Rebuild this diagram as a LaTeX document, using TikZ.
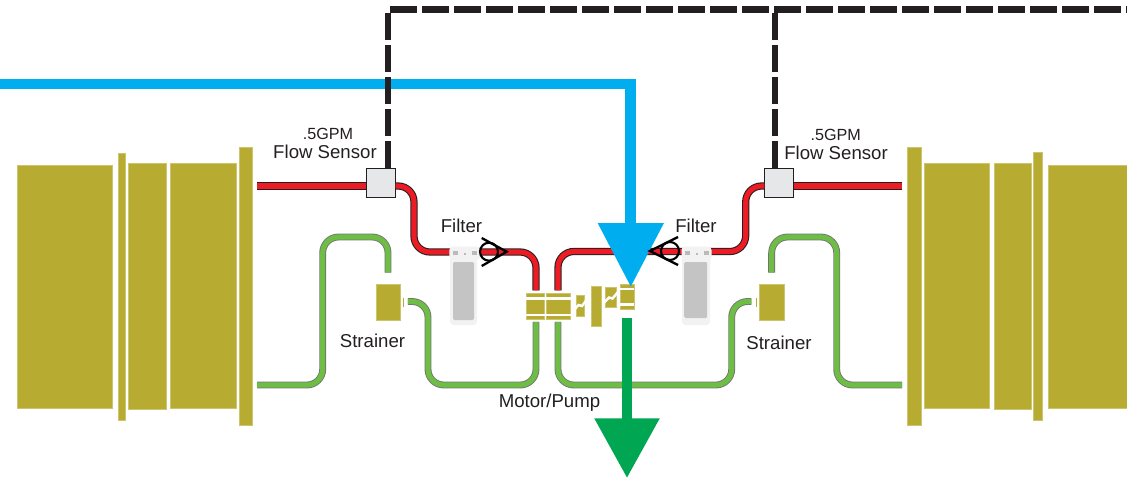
\documentclass[tikz,border=0pt]{standalone}
\usepackage{fontspec}
\setmainfont{Liberation Sans}
\usepackage{xcolor}
\usetikzlibrary{arrows.meta, positioning}

\definecolor{tankgold}{HTML}{B8AB32}
\definecolor{pipered}{HTML}{ED1C24}
\definecolor{pipegreen}{HTML}{6EBE46}
\definecolor{feedblue}{HTML}{00AEEF}
\definecolor{draingreen}{HTML}{00A651}
\definecolor{inkblack}{HTML}{231F20}
\definecolor{sensorgrey}{HTML}{E6E7E8}

\begin{document}
\begin{tikzpicture}[
        x=0.02cm,
        y=-0.02cm,
        font=\fontsize{10.6}{12}\selectfont,
        text=inkblack,
        line width=0.8pt,
        sized/.style 2 args={
            inner sep=0pt,
            outer sep=0pt,
            minimum width=#1*0.02cm,
            minimum height=#2*0.02cm
        },
        goldblock/.style={
            fill=tankgold,
            draw=tankgold!70!white,
            line width=0.3pt
        },
        gapline/.style={
            draw=white,
            line width=1.4pt
        },
        sensorbox/.style={
            fill=sensorgrey,
            draw=inkblack,
            line width=0.45pt
        },
        redpipe/.style={
            draw=inkblack,
            double=pipered,
            double distance=2.9pt,
            line width=0.6pt,
            rounded corners=9pt
        },
        greenpipe/.style={
            draw=black!55,
            double=pipegreen,
            double distance=2.9pt,
            line width=0.5pt,
            rounded corners=9pt
        },
        signalline/.style={
            draw=inkblack,
            line width=3.7pt,
            dash pattern=on 15.37pt off 2.85pt
        },
        feedline/.style={
            draw=feedblue,
            line width=6.1pt,
            -{Triangle[width=36pt, length=36.4pt, fill=feedblue]}
        },
        drainline/.style={
            draw=draingreen,
            line width=6.1pt,
            -{Triangle[width=35.6pt, length=34pt, fill=draingreen]}
        },
        filterbody/.style={
            fill=black!5,
            rounded corners=2pt
        },
        filterbowl/.style={
            fill=black!23,
            rounded corners=0.8pt
        },
        filtermark/.style={
            fill=black!27
        },
        valvering/.style={
            circle,
            draw=black,
            line width=1.2pt,
            inner sep=0pt,
            minimum size=0.36cm
        },
        valvearm/.style={
            draw=black,
            line width=1.3pt
        }
    ]

        \useasboundingbox (0, 0) rectangle (1127, 478);

        \node[goldblock, sized={95}{243}] (tankL1) at (64.5, 286.5) {};
        \node[goldblock, sized={7.5}{267}] (ringL) at (121.7, 286.3) {};
        \node[goldblock, sized={37.5}{246.5}] (tankL2) at (147.2, 286.2) {};
        \node[goldblock, sized={66}{245.5}] (tankL3) at (203, 285.7) {};
        \node[goldblock, sized={13.5}{278}] (flangeL) at (245.7, 286) {};

        \node[goldblock, sized={13.5}{278}] (flangeR) at (914.2, 286) {};
        \node[goldblock, sized={65}{245.5}] (tankR3) at (956.5, 285.7) {};
        \node[goldblock, sized={37}{246.5}] (tankR2) at (1012.5, 286.2) {};
        \node[goldblock, sized={8.5}{267.5}] (ringR) at (1037.7, 286.2) {};
        \node[goldblock, sized={79}{243}] (tankR1) at (1087.5, 286.5) {};

        \node[goldblock, sized={24}{36.7}] (strainerL) at (388, 302.3) {};
        \node[goldblock, sized={24.7}{36.7}] (strainerR) at (771.6, 302.3) {};
        \draw[tankgold, line width=0.5pt] (403.3, 298) -- (403.3, 306.7);
        \draw[tankgold, line width=0.5pt] (756.3, 298) -- (756.3, 306.7);

        \node[sensorbox, sized={29.7}{29}] (sensorL) at (380.8, 182.5) {};
        \node[sensorbox, sized={29.4}{29}] (sensorR) at (779, 182.5) {};

        \node[goldblock, sized={18.3}{26}] (motorA) at (535.2, 306.3) {};
        \node[goldblock, sized={24.7}{26}] (motorB) at (558.3, 306.3) {};
        \draw[gapline] (motorA.west |- 0, 298.5) -- (motorB.east |- 0, 298.5);
        \draw[gapline] (motorA.west |- 0, 315) -- (motorB.east |- 0, 315);

        \node[goldblock, sized={8.5}{21}] (shaftA) at (580.2, 305.3) {};
        \draw[gapline] (574, 310) -- (578.5, 305) -- (582, 306) -- (586.5, 300);
        \node[goldblock, sized={10}{40}] (plate) at (596, 306.5) {};
        \node[goldblock, sized={11.7}{20.4}] (shaftB) at (610.8, 297.5) {};
        \draw[gapline] (603.5, 303) -- (609, 297.5) -- (612.5, 298.5) -- (618, 292);
        \node[goldblock, sized={14}{25}] (pumpHead) at (627, 296.5) {};
        \draw[gapline] (pumpHead.west |- 0, 289) -- (pumpHead.east |- 0, 289);
        \draw[gapline] (pumpHead.west |- 0, 304.6) -- (pumpHead.east |- 0, 304.6);

        \coordinate (hotL) at (257, 186);
        \coordinate (hotR) at (902, 186);
        \coordinate (coldL) at (257, 385);
        \coordinate (coldR) at (902, 385);

        \draw[redpipe] (hotL) -- (hotL -| sensorL.west);
        \draw[redpipe, shorten >=1.7pt] (hotL -| sensorL.east) -- (414, 186) -- (414, 252) -- (536, 252) -- (536, 293.3);
        \draw[redpipe] (hotR) -- (hotR -| sensorR.east);
        \draw[redpipe, shorten >=1.7pt] (hotR -| sensorR.west) -- (745.7, 186) -- (745.7, 251.5) -- (558, 251.5) -- (558, 293.3);

        \draw[greenpipe, shorten >=6.5pt] (coldL) -- (322.7, 385) -- (322.7, 237) -- (388, 237) -- (strainerL.north);
        \draw[greenpipe, shorten <=4.5pt, shorten >=1.5pt] (strainerL.east |- 0, 301.5) -- (428, 301.5) -- (428, 385) -- (536, 385) -- (536, 319.3);
        \draw[greenpipe, shorten >=6.5pt] (coldR) -- (836.7, 385) -- (836.7, 237) -- (771.7, 237) -- (strainerR.north);
        \draw[greenpipe, shorten <=4.5pt, shorten >=1.5pt] (strainerR.west |- 0, 301.5) -- (731.7, 301.5) -- (731.7, 385) -- (558, 385) -- (558, 319.3);

        \node[filterbody, sized={27}{78}] (filterL) at (463.5, 286) {};
        \node[filterbody, sized={30.7}{14}] (capL) at (464.7, 253.5) {};
        \node[filterbowl, sized={21}{58}] (bowlL) at (463.5, 291) {};
        \node[filtermark, sized={5}{4}] at (455, 253) {};
        \node[filtermark, sized={5}{4}] at (474, 253) {};
        \node[filtermark, sized={2}{2}] at (464.5, 254) {};

        \node[filterbody, sized={28}{78}] (filterR) at (696, 286) {};
        \node[filterbody, sized={30}{14}] (capR) at (696.5, 253.5) {};
        \node[filterbowl, sized={23}{56}] (bowlR) at (695.7, 290) {};
        \node[filtermark, sized={5}{4}] at (687, 252.5) {};
        \node[filtermark, sized={5}{4}] at (706, 252.5) {};
        \node[filtermark, sized={2}{2}] at (696.5, 254) {};

        \coordinate (feedIn) at (0, 84);
        \coordinate (feedTip) at (630.8, 287);
        \coordinate (drainTop) at (627, 318);
        \coordinate (drainTip) at (627, 478);

        \draw[feedline] (feedIn) -- (feedTip |- feedIn) -- (feedTip);
        \draw[drainline] (drainTop) -- (drainTip);

        \coordinate (busStart) at (390, 9.3);
        \coordinate (busEnd) at (1127, 9.3);
        \coordinate (dropL) at (388, 13);
        \coordinate (dropR) at (775, 13);

        \draw[signalline] (busStart) -- (busEnd);
        \draw[signalline] (dropL) -- (dropL |- sensorL.north);
        \draw[signalline] (dropR) -- (dropR |- sensorR.north);

        \node[valvering] (valveL) at (489, 251.7) {};
        \draw[valvearm] (481.7, 238) -- (506.7, 251.7) -- (481.7, 266);
        \node[valvering] (valveR) at (670, 251) {};
        \draw[valvearm] (678, 237) -- (650, 251) -- (678, 265);

        \node (gpmL) at (328, 134) {\fontsize{9.2}{11}\selectfont .5GPM};
        \node (labelSensorL) at (325, 152) {Flow Sensor};
        \node (gpmR) at (835.7, 134.5) {\fontsize{9.2}{11}\selectfont .5GPM};
        \node (labelSensorR) at (836, 153) {Flow Sensor};
        \node (labelFilterL) at (461.5, 226) {Filter};
        \node (labelFilterR) at (696, 226) {Filter};
        \node (labelStrainerL) at (372.5, 341) {Strainer};
        \node (labelStrainerR) at (779, 343) {Strainer};
        \node (labelMotor) at (549.5, 403) {Motor/Pump};

    \end{tikzpicture}
\end{document}
